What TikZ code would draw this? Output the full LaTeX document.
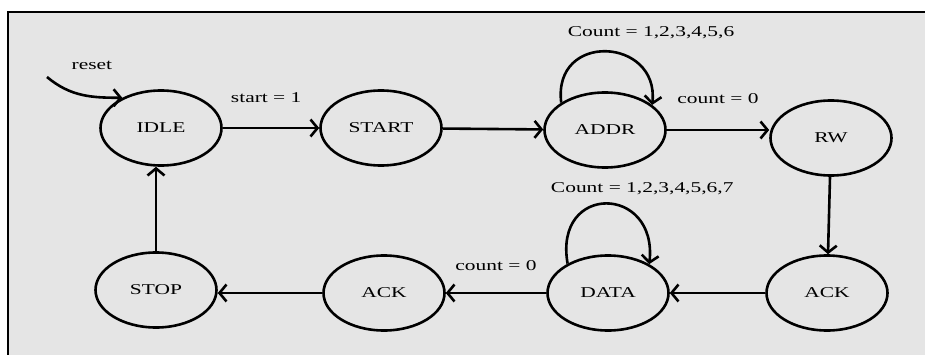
\documentclass[tikz,border=0pt]{standalone}
\usepackage{fontspec}
\setmainfont{Liberation Serif}[FakeStretch=1.43]
\usetikzlibrary{positioning, arrows.meta, shapes.geometric}

\begin{document}
\begin{tikzpicture}[x=1pt,y=1pt,node distance=220pt,on grid,line width=2.6pt,
  font=\fontsize{15}{17}\selectfont,
  >={Straight Barb[length=7pt,width=17pt]},
  st/.style={ellipse,draw,minimum width=121pt,minimum height=75pt,inner sep=0pt}]
\useasboundingbox (0,0) rectangle (925,354);
\fill[black!10] (8,-10) rectangle (935,342);
\draw[line width=2.8pt] (8,-10) -- (8,342) -- (935,342);

\node[st] (idle) at (161,226) {IDLE};
\node[st] (start) [right=220pt of idle] {START};
\node[st] (addr) [right=224pt of start, yshift=-2pt] {ADDR};
\node[st] (rw) [right=226pt of addr, yshift=-8pt] {RW};
\node[st] (ack1) [below=155pt of rw, xshift=-4pt] {ACK};
\node[st] (data) [left=219pt of ack1] {DATA};
\node[st] (ack2) [left=224pt of data] {ACK};
\node[st] (stop) [left=228pt of ack2, yshift=3pt] {STOP};
\coordinate (rst) at (47,277);

\path[->]
(idle) edge node[pos=0.45,above=21pt] {start = 1} (start)
(start) edge (addr)
(addr) edge node[above=22pt] {count = 0} (addr -| rw.west)
(rw) edge (ack1)
(ack1) edge (data)
(data) edge node[above=18pt] {count = 0} (ack2)
(ack2) edge (ack2 -| stop.east)
(stop) edge (stop |- idle.south);

% reset and self loops
\draw[->] (rst) to[out=-40,in=180] node[pos=0,above right=3pt and 20pt] {reset} (idle.142);
\draw[->] (addr.148) .. controls +(97:72) and +(84:68) .. (addr.28)
  node[pos=0.5,above=8pt,xshift=45pt] {Count = 1,2,3,4,5,6};
\draw[->] (data.144) .. controls +(100:82) and +(84:80) .. (data.35)
  node[pos=0.5,above=4pt,xshift=36pt] {Count = 1,2,3,4,5,6,7};
\end{tikzpicture}
\end{document}
